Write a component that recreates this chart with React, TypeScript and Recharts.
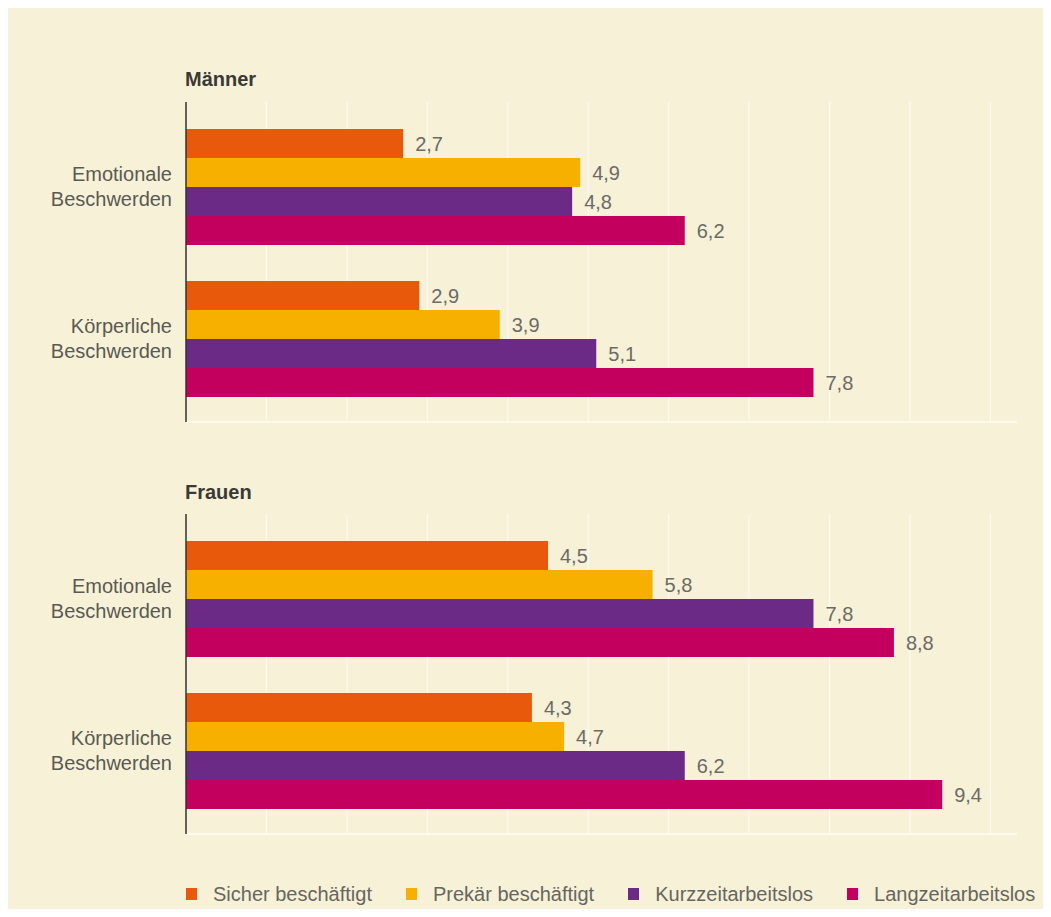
import React from 'react';
import { BarChart, Bar, XAxis, YAxis, CartesianGrid, LabelList, Legend } from 'recharts';

const categories = ['Emotionale Beschwerden', 'Körperliche Beschwerden'];
const seriesNames = ['Sicher beschäftigt', 'Prekär beschäftigt', 'Kurzzeitarbeitslos', 'Langzeitarbeitslos'];
const seriesKeys = ['sicher', 'prekaer', 'kurz', 'lang'];
const seriesColors = ['#e8590c', '#f7b000', '#6b2a86', '#c4005f'];

const maennerSicher = [2.7, 2.9];
const maennerPrekaer = [4.9, 3.9];
const maennerKurz = [4.8, 5.1];
const maennerLang = [6.2, 7.8];

const frauenSicher = [4.5, 4.3];
const frauenPrekaer = [5.8, 4.7];
const frauenKurz = [7.8, 6.2];
const frauenLang = [8.8, 9.4];

const xTicks = [0, 1, 2, 3, 4, 5, 6, 7, 8, 9, 10];
const gridTicks = [1, 2, 3, 4, 5, 6, 7, 8, 9, 10];
const xDomain: [number, number] = [0, 10.33];

const FONT = '"Liberation Sans", Arial, Helvetica, sans-serif';

const buildData = (a: number[], b: number[], c: number[], d: number[]) =>
  categories.map((cat, i) => ({ category: cat, sicher: a[i], prekaer: b[i], kurz: c[i], lang: d[i] }));

const maennerData = buildData(maennerSicher, maennerPrekaer, maennerKurz, maennerLang);
const frauenData = buildData(frauenSicher, frauenPrekaer, frauenKurz, frauenLang);

const CategoryTick = (props: any) => {
  const { x, y, payload } = props;
  const lines = String(payload.value).split(' ');
  return (
    <text x={x} y={y} textAnchor="end" fill="#5a5a52" fontSize={20} fontFamily={FONT}>
      {lines.map((l, i) => (
        <tspan key={i} x={x} dy={i === 0 ? -5 : 25}>
          {l}
        </tspan>
      ))}
    </text>
  );
};

const fmt = (v: any) => Number(v).toFixed(1).replace('.', ',');

const LegendContent = () => (
  <div style={{ height: 70, boxSizing: 'border-box', paddingTop: 47, paddingLeft: 178, display: 'flex', alignItems: 'center', whiteSpace: 'nowrap' }}>
    {seriesNames.map((name, i) => (
      <div key={name} style={{ display: 'flex', alignItems: 'center', marginRight: 34, height: 24, flexShrink: 0 }}>
        <div style={{ width: 11, height: 12, background: seriesColors[i], marginRight: 16 }} />
        <span style={{ fontSize: 20, color: '#66665f', fontFamily: FONT, lineHeight: '24px' }}>{name}</span>
      </div>
    ))}
  </div>
);

const verticalGen = (args: any) => {
  const { xAxis, offset } = args || {};
  if (xAxis && typeof xAxis.scale === 'function') {
    return gridTicks.map((t) => xAxis.scale(t));
  }
  const left = offset?.left ?? 178;
  const w = offset?.width ?? 831;
  return gridTicks.map((t) => left + ((t - xDomain[0]) / (xDomain[1] - xDomain[0])) * w);
};

const Panel = ({ data, height, withLegend }: { data: any[]; height: number; withLegend: boolean }) => (
  <BarChart
    width={1035}
    height={height}
    data={data}
    layout="vertical"
    margin={{ top: 94, right: 26, left: 0, bottom: withLegend ? 4 : 5 }}
    barCategoryGap={19}
    barGap={0}
  >
    <CartesianGrid horizontal={false} stroke="#fdfaee" strokeWidth={1.2} verticalCoordinatesGenerator={verticalGen} />
    <XAxis
      type="number"
      domain={xDomain}
      ticks={xTicks}
      allowDataOverflow
      tick={false}
      tickLine={false}
      axisLine={{ stroke: '#fefcf4', strokeWidth: 1.5 }}
      height={1}
    />
    <YAxis
      type="category"
      dataKey="category"
      width={178}
      interval={0}
      tickSize={0}
      tickMargin={14}
      tickLine={false}
      axisLine={{ stroke: '#33332e', strokeWidth: 1.5 }}
      padding={{ top: 8, bottom: 8 }}
      tick={<CategoryTick />}
    />
    {withLegend && <Legend verticalAlign="bottom" align="left" content={<LegendContent />} wrapperStyle={{ left: 0, width: 1035 }} />}
    {seriesKeys.map((k, i) => (
      <Bar key={k} dataKey={k} name={seriesNames[i]} fill={seriesColors[i]} isAnimationActive={false}>
        <LabelList dataKey={k} position="right" offset={12} formatter={fmt} fill="#6b6b66" fontSize={20} fontFamily={FONT} />
      </Bar>
    ))}
  </BarChart>
);

const titleStyle: React.CSSProperties = {
  position: 'absolute',
  left: 177,
  fontSize: 20,
  lineHeight: '20px',
  fontWeight: 'bold',
  color: '#3a3a35',
  fontFamily: FONT,
};

export default function App() {
  return (
    <div style={{ position: 'relative', width: 1035, height: 901, background: '#f7f1d8', fontFamily: FONT }}>
      <div style={{ position: 'absolute', left: 0, top: 0 }}>
        <Panel data={maennerData} height={420} withLegend={false} />
      </div>
      <div style={{ position: 'absolute', left: 0, top: 412 }}>
        <Panel data={frauenData} height={489} withLegend={true} />
      </div>
      <div style={{ ...titleStyle, top: 61 }}>Männer</div>
      <div style={{ ...titleStyle, top: 474 }}>Frauen</div>
    </div>
  );
}
